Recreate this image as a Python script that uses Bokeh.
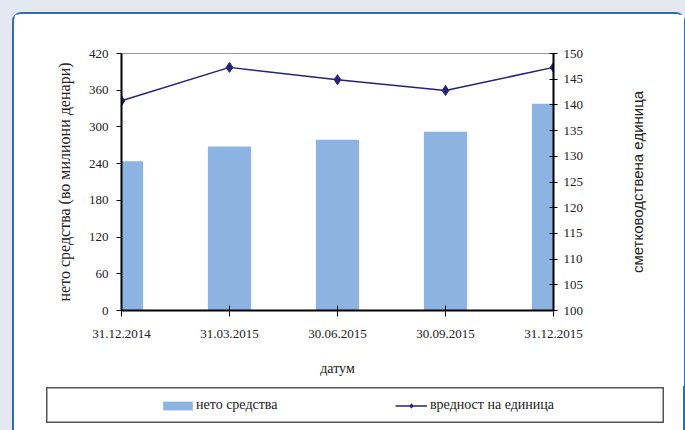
from bokeh.plotting import figure
from bokeh.layouts import column, row
from bokeh.models import Range1d, LinearAxis, FixedTicker, Legend, LegendItem, Title
from bokeh.embed import file_html
from bokeh.resources import INLINE

# ---- data ----
dates = ["31.12.2014", "31.03.2015", "30.06.2015", "30.09.2015", "31.12.2015"]
net_assets = [244, 268, 279, 292, 338]
unit_value = [140.8, 147.3, 144.9, 142.8, 147.3]
left_ticks = [0, 60, 120, 180, 240, 300, 360, 420]
right_ticks = [100, 105, 110, 115, 120, 125, 130, 135, 140, 145, 150]
bar_label = "нето средства"
line_label = "вредност на единица"
left_title = "нето средства (во милиони денари)"
right_title = "сметководствена единица"
x_title = "датум"

xs = list(range(len(dates)))
SERIF = "Liberation Serif"
BAR = "#8DB3E2"
LINE = "#24237A"
TXT = "#222222"

p = figure(width=586, height=372, output_backend="svg", toolbar_location=None,
           x_range=Range1d(0, len(dates) - 1), y_range=Range1d(left_ticks[0], left_ticks[-1]),
           min_border_left=107, min_border_right=47, min_border_top=39, min_border_bottom=76)
p.extra_y_ranges = {"unit": Range1d(right_ticks[0], right_ticks[-1])}
p.border_fill_color = "white"
p.background_fill_color = "white"
p.outline_line_color = "#9A9A9A"
p.outline_line_width = 1
p.xgrid.visible = False
p.ygrid.visible = False

bars = p.vbar(x=xs, top=net_assets, width=0.4, fill_color=BAR, line_color=None)
ln = p.line(x=xs, y=unit_value, line_color=LINE, line_width=1.5, y_range_name="unit")
mk = p.scatter(x=xs, y=unit_value, marker="diamond", size=10, fill_color=LINE, line_color=LINE,
               y_range_name="unit")

def style_axis(ax, size="13px"):
    ax.axis_line_color = "black"
    ax.axis_line_width = 2
    ax.major_tick_line_color = "black"
    ax.major_tick_line_width = 1
    ax.minor_tick_line_color = None
    ax.major_label_text_font = SERIF
    ax.major_label_text_font_size = size
    ax.major_label_text_color = TXT
    ax.axis_label_text_font_style = "normal"
    ax.axis_label_text_color = TXT

xa = p.xaxis[0]
xa.ticker = FixedTicker(ticks=xs)
xa.major_label_overrides = {i: d for i, d in enumerate(dates)}
style_axis(xa)
xa.major_tick_in = 5
xa.major_tick_out = 6
xa.major_label_standoff = 13
xa.axis_label = x_title
xa.axis_label_text_font = SERIF
xa.axis_label_text_font_size = "14px"
xa.axis_label_standoff = 20

ya = p.yaxis[0]
ya.ticker = FixedTicker(ticks=left_ticks)
style_axis(ya)
ya.major_tick_in = 0
ya.major_tick_out = 5
ya.major_label_standoff = 8
ya.axis_label = left_title
ya.axis_label_text_font = SERIF
ya.axis_label_text_font_size = "16px"
ya.axis_label_standoff = 13

ra = LinearAxis(y_range_name="unit", ticker=FixedTicker(ticks=right_ticks))
style_axis(ra)
ra.major_tick_in = 4
ra.major_tick_out = 4
ra.major_label_standoff = 6
p.add_layout(ra, "right")

# right-hand title, reading bottom to top, in a narrow companion plot
p3 = figure(width=84, height=372, output_backend="svg", toolbar_location=None,
            x_axis_type=None, y_axis_type=None, x_range=Range1d(0, 1), y_range=Range1d(0, 1),
            min_border_left=45, min_border_right=0, min_border_top=39, min_border_bottom=76)
p3.border_fill_color = "white"
p3.background_fill_color = "white"
p3.outline_line_color = None
p3.xgrid.visible = False
p3.ygrid.visible = False
p3.add_layout(Title(text=right_title, align="center", text_font="Liberation Sans",
                    text_font_size="15px", text_font_style="normal", text_color=TXT,
                    standoff=0, offset=0), "left")

# legend box as its own small plot; its key renderers sit outside its view range
p2 = figure(width=618, height=36, output_backend="svg", toolbar_location=None,
            x_axis_type=None, y_axis_type=None, x_range=Range1d(100, 101), y_range=Range1d(1000, 1001),
            min_border_left=0, min_border_right=0, min_border_top=0, min_border_bottom=0,
            styles={"margin-left": "32px", "margin-top": "1px", "margin-bottom": "20px"})
p2.border_fill_color = "white"
p2.background_fill_color = "white"
p2.outline_line_color = "#555555"
p2.outline_line_width = 2
p2.xgrid.visible = False
p2.ygrid.visible = False
kb = p2.vbar(x=xs[:1], top=net_assets[:1], width=0.4, fill_color=BAR, line_color=None)
kl = p2.line(x=xs[:2], y=unit_value[:2], line_color=LINE, line_width=1.5)
km = p2.scatter(x=xs[:1], y=unit_value[:1], marker="diamond", size=8, fill_color=LINE, line_color=LINE)

common = dict(orientation="horizontal", padding=0, margin=0, spacing=0,
              border_line_color=None, background_fill_alpha=0,
              label_text_font=SERIF, label_text_font_size="14px", label_text_color=TXT)
leg1 = Legend(items=[LegendItem(label=bar_label, renderers=[kb])], location=(113, 10),
              glyph_width=37, glyph_height=11, label_standoff=0, **common)
leg2 = Legend(items=[LegendItem(label=line_label, renderers=[kl, km])], location=(349, 10),
              glyph_width=32, glyph_height=11, label_standoff=3, **common)
p2.add_layout(leg1)
p2.add_layout(leg2)

inner = column(row(p, p3), row(p2), styles={"background-color": "white",
                                            "border-top": "2px solid #2E6CB3",
                                            "border-left": "2px solid #2E6CB3",
                                            "border-right": "2px solid #2E6CB3",
                                            "border-top-left-radius": "9px",
                                            "border-top-right-radius": "9px"})
outer = column(inner, styles={"background-color": "#E3E8F1",
                              "padding-left": "12px", "padding-top": "12px",
                              "overflow": "hidden", "width": "685px", "height": "430px",
                              "box-sizing": "border-box"})

open("out.html", "w").write(file_html(outer, INLINE))
